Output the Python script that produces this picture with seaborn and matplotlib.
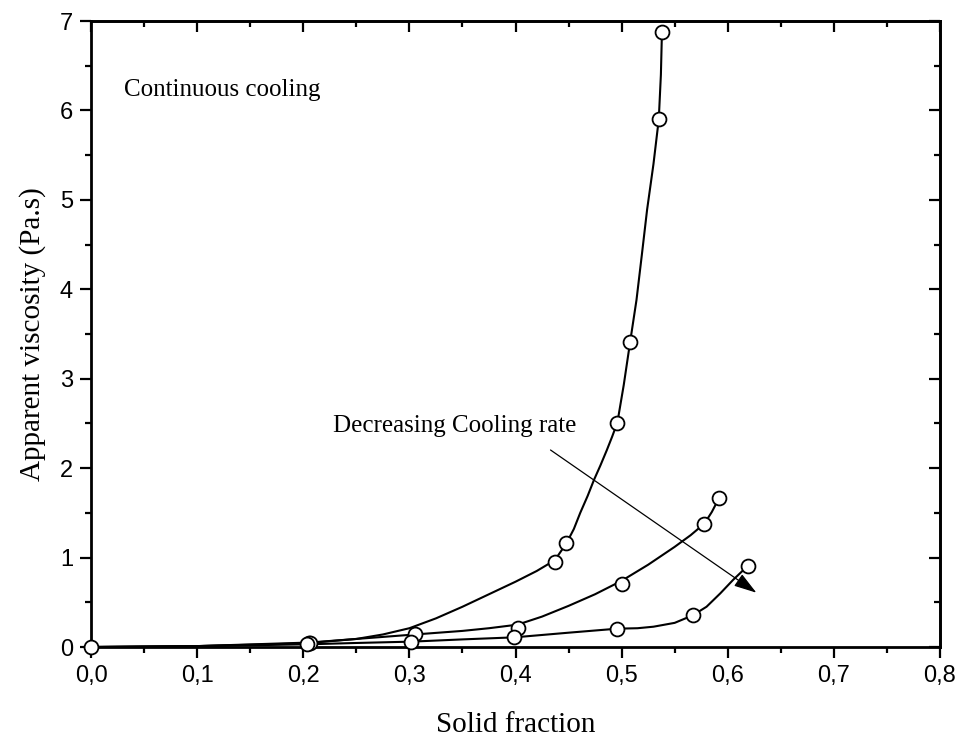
import matplotlib
matplotlib.use("Agg")
import matplotlib.pyplot as plt
import matplotlib.ticker as mticker
import seaborn as sns
import pandas as pd

# ---- data ----
# measured points (markers)
top_x = [0.0, 0.205, 0.437, 0.448, 0.496, 0.508, 0.535, 0.538]
top_y = [0.0, 0.04, 0.95, 1.16, 2.51, 3.41, 5.90, 6.88]
mid_x = [0.206, 0.305, 0.402, 0.500, 0.578, 0.592]
mid_y = [0.05, 0.145, 0.216, 0.704, 1.38, 1.67]
bot_x = [0.204, 0.302, 0.399, 0.496, 0.567, 0.619]
bot_y = [0.03, 0.06, 0.108, 0.205, 0.354, 0.909]

# drawn curves
top_line_x = [0.0, 0.1, 0.2, 0.25, 0.275, 0.30, 0.325, 0.35, 0.375, 0.40, 0.42, 0.437, 0.448,
              0.455, 0.461, 0.468, 0.474, 0.48, 0.486, 0.491, 0.496, 0.502, 0.508, 0.514,
              0.519, 0.524, 0.530, 0.535, 0.537, 0.538]
top_line_y = [0.0, 0.01, 0.04, 0.09, 0.14, 0.21, 0.32, 0.45, 0.59, 0.73, 0.85, 0.97, 1.16,
              1.32, 1.50, 1.69, 1.87, 2.03, 2.20, 2.35, 2.51, 2.93, 3.41, 3.88,
              4.38, 4.89, 5.40, 5.90, 6.40, 6.88]
mid_line_x = [0.0, 0.1, 0.206, 0.25, 0.305, 0.35, 0.375, 0.402, 0.425, 0.45, 0.475, 0.50,
              0.525, 0.55, 0.565, 0.578, 0.585, 0.592]
mid_line_y = [0.0, 0.01, 0.05, 0.09, 0.14, 0.18, 0.21, 0.25, 0.34, 0.46, 0.59, 0.74,
              0.92, 1.12, 1.25, 1.38, 1.51, 1.67]
bot_line_x = [0.0, 0.1, 0.204, 0.25, 0.302, 0.35, 0.399, 0.45, 0.496, 0.515, 0.53, 0.55,
              0.567, 0.58, 0.593, 0.605, 0.619]
bot_line_y = [0.0, 0.01, 0.03, 0.045, 0.06, 0.085, 0.108, 0.16, 0.205, 0.21, 0.227, 0.27,
              0.354, 0.45, 0.60, 0.75, 0.909]

x_ticks = [0.0, 0.1, 0.2, 0.3, 0.4, 0.5, 0.6, 0.7, 0.8]
y_ticks = [0, 1, 2, 3, 4, 5, 6, 7]

series_names = ["Curve 1", "Curve 2", "Curve 3"]

# ---- build tables ----
lines_df = pd.concat([
    pd.DataFrame({"x": top_line_x, "y": top_line_y, "s": series_names[0]}),
    pd.DataFrame({"x": mid_line_x, "y": mid_line_y, "s": series_names[1]}),
    pd.DataFrame({"x": bot_line_x, "y": bot_line_y, "s": series_names[2]}),
], ignore_index=True)
pts_df = pd.concat([
    pd.DataFrame({"x": top_x, "y": top_y, "s": series_names[0]}),
    pd.DataFrame({"x": mid_x, "y": mid_y, "s": series_names[1]}),
    pd.DataFrame({"x": bot_x, "y": bot_y, "s": series_names[2]}),
], ignore_index=True)

sns.set_theme(style="white")
plt.rcParams["font.family"] = ["Liberation Sans", "DejaVu Sans"]

fig = plt.figure(figsize=(9.67, 7.40), dpi=100)
ax = fig.add_axes([91 / 967, 1 - 647 / 740, (940 - 91) / 967, (647 - 21) / 740])

sns.lineplot(data=lines_df, x="x", y="y", units="s", estimator=None, sort=False,
             color="black", lw=1.5, ax=ax, legend=False)
sns.scatterplot(data=pts_df, x="x", y="y", ax=ax, s=100, marker="o",
                facecolor="white", edgecolor="black", linewidth=1.3,
                legend=False, zorder=5, clip_on=False)

ax.set_xlim(0, 0.8)
ax.set_ylim(0, 7)
ax.set_xticks(x_ticks)
ax.set_yticks(y_ticks)
ax.xaxis.set_minor_locator(mticker.MultipleLocator(0.05))
ax.yaxis.set_minor_locator(mticker.MultipleLocator(0.5))
ax.xaxis.set_major_formatter(mticker.FuncFormatter(lambda v, p: f"{v:.1f}".replace(".", ",")))
ax.yaxis.set_major_formatter(mticker.FuncFormatter(lambda v, p: f"{v:.0f}"))

for sp in ax.spines.values():
    sp.set_visible(True)
    sp.set_linewidth(2.0)
    sp.set_color("black")

ax.tick_params(which="major", direction="out", length=8, width=1.6, labelsize=17,
               color="black", labelcolor="black", pad=5, bottom=True, left=True)
ax.tick_params(which="minor", direction="out", length=4.5, width=1.6,
               color="black", bottom=True, left=True)

secx = ax.secondary_xaxis("top")
secx.set_xticks(x_ticks)
secx.xaxis.set_minor_locator(mticker.MultipleLocator(0.05))
secx.tick_params(which="major", direction="in", length=8, width=1.6, labeltop=False, color="black")
secx.tick_params(which="minor", direction="in", length=4.5, width=1.6, color="black")
secx.spines["top"].set_linewidth(2.0)

secy = ax.secondary_yaxis("right")
secy.set_yticks(y_ticks)
secy.yaxis.set_minor_locator(mticker.MultipleLocator(0.5))
secy.tick_params(which="major", direction="in", length=8, width=1.6, labelright=False, color="black")
secy.tick_params(which="minor", direction="in", length=4.5, width=1.6, color="black")
secy.spines["right"].set_linewidth(2.0)

serif = ["Liberation Serif", "DejaVu Serif"]
ax.set_xlabel("Solid fraction", family=serif, fontsize=21, color="black", labelpad=18)
ax.set_ylabel("Apparent viscosity (Pa.s)", family=serif, fontsize=21, color="black", labelpad=10)

ax.text(0.031, 6.16, "Continuous cooling", family=serif, fontsize=18, color="black")
ax.text(0.228, 2.40, "Decreasing Cooling rate", family=serif, fontsize=18, color="black")
ax.annotate("", xy=(0.627, 0.607), xytext=(0.433, 2.203),
            arrowprops=dict(arrowstyle="-|>,head_length=0.7,head_width=0.22",
                            color="black", lw=0.9, mutation_scale=20, shrinkA=0, shrinkB=0))

fig.savefig("out.png", dpi=100)
